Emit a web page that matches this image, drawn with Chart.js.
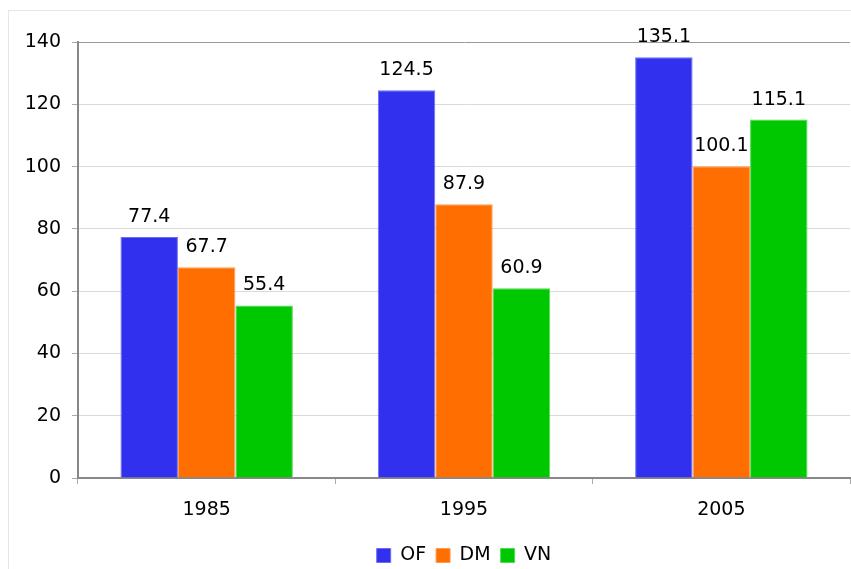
<!DOCTYPE html>
<html>
<head>
<meta charset="utf-8">
<script src="https://cdn.jsdelivr.net/npm/chart.js@4"></script>
<style>
  html, body { margin: 0; padding: 0; background: #fff; overflow: hidden; }
  #frame { position: absolute; left: 8px; top: 10px; width: 842px; height: 600px; border: 1px solid #e6e6e6; }
  #wrap { position: absolute; left: 0; top: 0; width: 851px; height: 575px; }
</style>
</head>
<body>
<div id="frame"></div>
<div id="wrap"><canvas id="myChart"></canvas></div>
<script>
const years = ['1985', '1995', '2005'];
const ofValues = [77.4, 124.5, 135.1];
const dmValues = [67.7, 87.9, 100.1];
const vnValues = [55.4, 60.9, 115.1];

Chart.defaults.font.family = 'DejaVu Sans';
Chart.defaults.font.size = 19;
Chart.defaults.color = '#000';

// draws the value above each bar
const barValues = {
    id: 'barValues',
    afterDatasetsDraw(chart) {
        const ctx = chart.ctx;
        ctx.save();
        ctx.font = '19px "DejaVu Sans"';
        ctx.fillStyle = '#000';
        ctx.textAlign = 'center';
        ctx.textBaseline = 'alphabetic';
        chart.data.datasets.forEach((ds, i) => {
            chart.getDatasetMeta(i).data.forEach((bar, j) => {
                ctx.fillText(ds.data[j].toFixed(1), bar.x, bar.y - 15);
            });
        });
        ctx.restore();
    }
};

const ctx = document.getElementById('myChart').getContext('2d');
const myChart = new Chart(ctx, {
    type: 'bar',
    data: {
        labels: years,
        datasets: [
            { label: 'OF', data: ofValues, backgroundColor: '#3030ee', borderColor: '#6d6df4', borderWidth: 1 },
            { label: 'DM', data: dmValues, backgroundColor: '#ff6e00', borderColor: '#ff9a50', borderWidth: 1 },
            { label: 'VN', data: vnValues, backgroundColor: '#00c800', borderColor: '#50dc50', borderWidth: 1 }
        ]
    },
    options: {
        responsive: true,
        maintainAspectRatio: false,
        animation: false,
        categoryPercentage: 0.67,
        barPercentage: 1,
        layout: { padding: { left: 8, top: 42, right: 1, bottom: 0 } },
        scales: {
            x: {
                grid: { offset: true, drawOnChartArea: false, tickLength: 6, tickColor: '#aaa' },
                border: { color: '#888', width: 2 },
                ticks: { padding: 15 },
                afterFit(scale) { scale.height = 58; }
            },
            y: {
                min: 0,
                max: 140,
                ticks: { stepSize: 20, padding: 11 },
                grid: {
                    color: (c) => c.tick && c.tick.value === 140 ? '#999' : '#dadada',
                    tickColor: '#aaa',
                    tickLength: 6
                },
                border: { color: '#888', width: 2 },
                afterFit(scale) { scale.width = 70; }
            }
        },
        plugins: {
            legend: {
                position: 'bottom',
                fullSize: false,
                labels: { boxWidth: 14, boxHeight: 14, padding: 10 }
            },
            tooltip: { enabled: false }
        }
    },
    plugins: [barValues]
});
</script>
</body>
</html>
